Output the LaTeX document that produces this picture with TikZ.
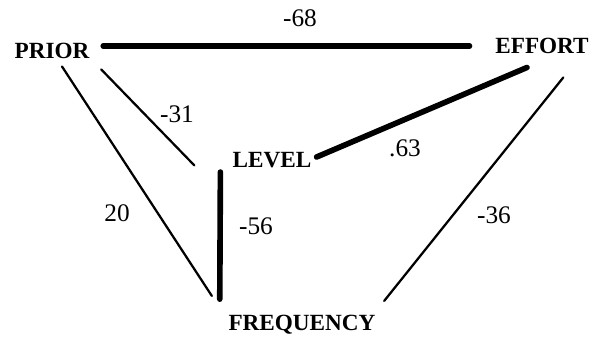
\documentclass[tikz,border=0pt]{standalone}
\usepackage{fontspec}
\setmainfont{Liberation Serif}
\usetikzlibrary{calc}

\begin{document}
\begin{tikzpicture}[
    var/.style={inner sep=0pt, font=\fontsize{16.5}{19}\selectfont\bfseries},
    coef/.style={inner sep=0pt, font=\fontsize{18}{21}\selectfont},
    weak/.style={line width=1.6pt, line cap=round},
    strong/.style={line width=4pt, line cap=round}
]
\useasboundingbox (0,0) rectangle (14.975,8.425);
\node[var] (prior) at (1.3, 7.15) {PRIOR};
\node[var] (effort) at (13.55, 7.275) {EFFORT};
\node[var] (level) at (6.8, 4.425) {LEVEL};
\node[var] (freq) at (7.55, 0.3) {FREQUENCY};
\node[coef] (c68) at (7.5, 7.975) {-68};
\node[coef] (c31) at (4.425, 5.575) {-31};
\node[coef] (c63) at (10.125, 4.725) {.63};
\node[coef] (c20) at (2.925, 3.1) {20};
\node[coef] (c56) at (6.4, 2.775) {-56};
\node[coef] (c36) at (12.35, 3.05) {-36};
\draw[strong] ([xshift=0.34cm]prior.east |- effort.west) -- ([xshift=-0.64cm]effort.west);
\draw[weak] ([shift={(0.29,-0.26)}]prior.south east) -- ([shift={(-0.95,0.065)}]level.south west);
\draw[weak] ([shift={(0.25,-0.185)}]prior.south) -- ([shift={(-0.41,0.48)}]freq.north west);
\draw[strong] ([shift={(-0.3,-0.1)}]level.south west) -- ([shift={(-0.2125,0.4)}]freq.north west);
\draw[strong] ([shift={(0.125,0.075)}]level.east) -- ([shift={(-0.375,-0.335)}]effort.south);
\draw[weak] ([shift={(-0.64,-0.585)}]effort.south east) -- ([shift={(0.21,0.355)}]freq.north east);
\end{tikzpicture}
\end{document}
